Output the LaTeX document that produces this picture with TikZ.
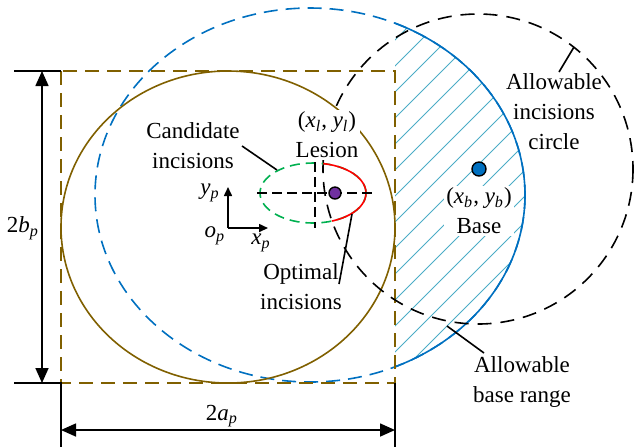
\documentclass[tikz,border=0pt]{standalone}
\usepackage{fontspec}
\setmainfont{Liberation Serif}
\usepackage{xcolor}
\usetikzlibrary{arrows.meta,positioning}
\definecolor{rimbrown}{RGB}{128,96,0}
\definecolor{rimblue}{RGB}{0,112,192}
\definecolor{hatchblue}{RGB}{75,172,198}
\definecolor{incgreen}{RGB}{0,176,80}
\definecolor{lesionpurple}{RGB}{112,48,160}
\newcommand{\isub}[2]{\textit{#1}\textsubscript{\textit{#2}}}

\begin{document}
\begin{tikzpicture}[
  x=0.5pt, y=-0.5pt,
  font=\fontsize{11.5}{15}\selectfont,
  lbl/.style={align=center, inner sep=1pt},
  dim/.style={{Triangle[length=7.5pt,width=6.5pt]}-{Triangle[length=7.5pt,width=6.5pt]}, line width=0.8pt},
  ext/.style={line width=0.8pt},
  axis/.style={-{Triangle[length=4.5pt,width=4pt]}, line width=0.8pt},
  lead/.style={line width=0.8pt},
  rim/.style={line width=0.8pt},
  longdash/.style={dash pattern=on 7pt off 4pt},
  shortdash/.style={dash pattern=on 5pt off 3pt},
  hatch/.style={hatchblue, line width=0.5pt},
  dot/.style={circle, draw=black, line width=0.7pt, inner sep=0pt}
]
\useasboundingbox (0,0) rectangle (636,447);

% hatched base range
\begin{scope}
  \clip (395,0) rectangle (636,447);
  \clip (310,195) ellipse [x radius=215, y radius=187];
  \foreach \c in {409,435,...,929}
    \draw[hatch] ({\c-447},447) -- (\c,0);
\end{scope}

% workspace of the base
\draw[rim, rimblue, longdash] (310,195) ellipse [x radius=215, y radius=187];
\begin{scope}
  \clip (395,0) rectangle (636,447);
  \draw[rim, rimblue] (310,195) ellipse [x radius=215, y radius=187];
\end{scope}

% patient body
\draw[rim, rimbrown, longdash] (61,71) rectangle (395,383);
\draw[rim, rimbrown] (228,227) ellipse [x radius=167, y radius=156];

% allowable incisions circle
\draw[rim, dash pattern=on 7pt off 4.5pt] (478,169) circle [radius=155];

% candidate and optimal incisions
\draw[rim, incgreen, shortdash] (313,193) ellipse [x radius=53, y radius=30];
\begin{scope}
  \clip (478,169) circle [radius=155];
  \draw[rim, red] (313,193) ellipse [x radius=53, y radius=30];
\end{scope}
\draw[rim, dash pattern=on 5pt off 2.5pt] (257,193) -- (373,193);
\draw[rim, dash pattern=on 5pt off 2.5pt] (315,162) -- (315,228);

% labels
\node[lbl] (cand) at (193,146) {Candidate\\incisions};
\node[lbl, fill=white] (lesion) at (327,135) {(\isub{x}{l}, \isub{y}{l})\\Lesion};
\node[lbl] (optim) at (301,287) {Optimal\\incisions};
\node[lbl] (allowc) at (554,112) {Allowable\\incisions\\circle};
\node[lbl, fill=white] (base) at (479,211) {(\isub{x}{b}, \isub{y}{b})\\Base};
\node[lbl] (allowb) at (522,382) {Allowable\\base range};

\node[dot, fill=lesionpurple, minimum size=6pt] (lesdot) at (335,193) {};
\node[dot, fill=rimblue, minimum size=7pt] (basedot) at (479,169) {};

% leaders
\coordinate (candtip) at (277,170);
\coordinate (opttip) at (352,214);
\coordinate (optend) at (339,284);
\coordinate (circfoot) at (559,72);
\coordinate (circtip) at (574,47);
\coordinate (rangetip) at (447,326);
\coordinate (rangeend) at (484,353);
\draw[lead] (cand.east) -- (candtip);
\draw[lead] (opttip) -- (optend);
\draw[lead] (circfoot) -- (circtip);
\draw[lead] (rangetip) -- (rangeend);

% local frame
\coordinate (op) at (228,228);
\coordinate (ypend) at (228,187);
\coordinate (xpend) at (268,228);
\draw[axis] (op) -- (ypend);
\draw[axis] (op) -- (xpend);
\node (yplbl) at (210,193) {\isub{y}{p}};
\node (oplbl) at (215,236) {\isub{o}{p}};
\node (xplbl) at (261,243) {\isub{x}{p}};

% dimensions
\coordinate (tl) at (61,71);
\coordinate (bl) at (61,383);
\coordinate (br) at (395,383);
\coordinate (tlout) at (14,71);
\coordinate (blout) at (14,383);
\coordinate (bldown) at (61,447);
\coordinate (brdown) at (395,447);
\coordinate (bt) at (42,71);
\coordinate (bb) at (42,383);
\coordinate (al) at (61,430);
\coordinate (ar) at (395,430);
\draw[ext] (tlout) -- (tl);
\draw[ext] (blout) -- (bl) -- (bldown);
\draw[ext] (br) -- (brdown);
\draw[dim] (bt) -- (bb);
\draw[dim] (al) -- (ar);
\node (blbl) at (23,228) {2\isub{b}{p}};
\node (albl) at (222,416) {2\isub{a}{p}};
\end{tikzpicture}
\end{document}
